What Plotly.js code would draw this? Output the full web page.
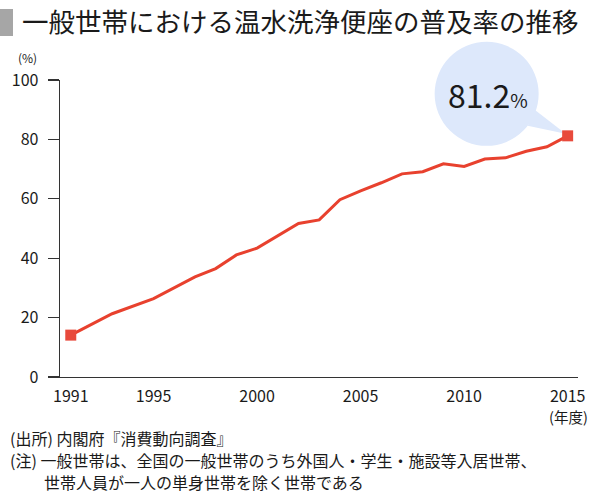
<!DOCTYPE html>
<html>
<head>
<meta charset="utf-8">
<script src="https://cdn.plot.ly/plotly-3.0.1.min.js"></script>
<style>
  html, body { margin: 0; padding: 0; background: #fff; }
  #chart { width: 600px; height: 499px; }
</style>
</head>
<body>
<div id="chart"></div>
<script>
// Fiscal years with a visible vertex on the line, and the penetration rate (%)
const years = [1991, 1993, 1995, 1997, 1998, 1999, 2000, 2002, 2003, 2004, 2005,
               2006, 2007, 2008, 2009, 2010, 2011, 2012, 2013, 2014, 2015];
const rates = [14.1, 21.3, 26.4, 33.7, 36.5, 41.1, 43.4, 51.7, 52.9, 59.7, 62.7,
               65.4, 68.4, 69.1, 71.8, 70.9, 73.4, 73.8, 76.0, 77.5, 81.2];

const xTicks = [1991, 1995, 2000, 2005, 2010, 2015];
const yTicks = [0, 20, 40, 60, 80, 100];

const TITLE = "一般世帯における温水洗浄便座の普及率の推移";
const NOTES = [
  "(出所) 内閣府『消費動向調査』",
  "(注) 一般世帯は、全国の一般世帯のうち外国人・学生・施設等入居世帯、",
  "世帯人員が一人の単身世帯を除く世帯である",
];

const RED = "#e8412e";
const INK = "#1a1a1a";
const BUBBLE = "#dde8fb";
const FONT = "Noto Sans CJK JP, Noto Sans, sans-serif";

const X_RANGE = [1990.48, 2015.5];
const Y_RANGE = [0, 100];

const last = years.length - 1;
const lastYear = years[last];
const lastRate = rates[last];

const data = [
  {
    type: "scatter",
    mode: "lines",
    x: years,
    y: rates,
    line: { color: RED, width: 3 },
    hoverinfo: "skip",
  },
  {
    // square markers only at the two ends
    type: "scatter",
    mode: "markers",
    x: [years[0], lastYear],
    y: [rates[0], lastRate],
    marker: { symbol: "square", size: 11, color: "#e84a3c" },
    hoverinfo: "skip",
  },
];

// pixel helpers for paper coords
const L = 60, R = 22, T = 80, B = 122;
const PW = 600 - L - R, PH = 499 - T - B;
const px = x => (x - L) / PW;
const py = y => (499 - B - y) / PH;

// the bubble sits outside the plot area, so anchor it in paper units
// (shapes on data axes get clipped)
const anchorX = (lastYear - X_RANGE[0]) / (X_RANGE[1] - X_RANGE[0]);
const anchorY = (lastRate - Y_RANGE[0]) / (Y_RANGE[1] - Y_RANGE[0]);

const note = (text, x, y) => ({
  xref: "paper", yref: "paper", x: px(x), y: py(y),
  xanchor: "left", yanchor: "middle",
  text, showarrow: false,
  font: { family: FONT, size: 16, color: INK },
});

const layout = {
  width: 600,
  height: 499,
  margin: { l: L, r: R, t: T, b: B },
  paper_bgcolor: "#fff",
  plot_bgcolor: "#fff",
  showlegend: false,
  font: { family: FONT, color: INK, size: 16 },
  title: {
    text: TITLE,
    font: { family: FONT, size: 26.5, color: INK },
    xref: "container", x: 22 / 600, xanchor: "left",
    yref: "container", y: 1 - 23 / 499, yanchor: "middle",
  },
  xaxis: {
    range: X_RANGE,
    showline: true, linecolor: "#333", linewidth: 1.3,
    ticks: "",
    tickvals: xTicks,
    ticktext: xTicks.map(String),
    tickfont: { size: 16, color: INK },
    ticklabelstandoff: 4,
    showgrid: false, zeroline: false,
    fixedrange: true,
  },
  yaxis: {
    range: Y_RANGE,
    showline: true, linecolor: "#333", linewidth: 1.3,
    ticks: "outside", ticklen: 11, tickwidth: 1.3, tickcolor: "#333",
    tickvals: yTicks,
    ticktext: yTicks.map(String),
    tickfont: { size: 16, color: INK },
    ticklabelstandoff: 6,
    showgrid: false, zeroline: false,
    fixedrange: true,
  },
  shapes: [
    // grey block before the title
    {
      type: "rect", xref: "paper", yref: "paper",
      x0: px(0), x1: px(13), y0: py(36), y1: py(9),
      fillcolor: "#a6a6a6", line: { width: 0 },
    },
    // speech bubble pointing at the last point
    {
      type: "circle", layer: "below",
      xref: "paper", yref: "paper", xsizemode: "pixel", ysizemode: "pixel",
      xanchor: anchorX, yanchor: anchorY,
      x0: -133, x1: -29, y0: -10, y1: 94,
      fillcolor: BUBBLE, line: { width: 0 },
    },
    {
      type: "path", layer: "below",
      xref: "paper", yref: "paper", xsizemode: "pixel", ysizemode: "pixel",
      xanchor: anchorX, yanchor: anchorY,
      path: "M -33 26 L -40 10 L -2 2 Z",
      fillcolor: BUBBLE, line: { width: 0 },
    },
  ],
  annotations: [
    {
      xref: "x", yref: "y", x: lastYear, y: lastRate,
      xshift: -80, yshift: 42, yanchor: "middle",
      text: lastRate.toFixed(1) + "<span style='font-size:19px'>%</span>",
      showarrow: false,
      font: { family: FONT, size: 32, color: INK },
    },
    {
      xref: "paper", yref: "paper", x: px(27), y: py(58),
      xanchor: "center", yanchor: "middle",
      text: "(%)", showarrow: false,
      font: { family: FONT, size: 12, color: INK },
    },
    {
      xref: "x", yref: "paper", x: lastYear, y: py(416), xshift: 1,
      xanchor: "center", yanchor: "middle",
      text: "(年度)", showarrow: false,
      font: { family: FONT, size: 14.5, color: INK },
    },
    note(NOTES[0], 8, 438),
    note(NOTES[1], 8, 460),
    note(NOTES[2], 42, 482),
  ],
};

Plotly.newPlot("chart", data, layout, { displayModeBar: false, staticPlot: true });
</script>
</body>
</html>
